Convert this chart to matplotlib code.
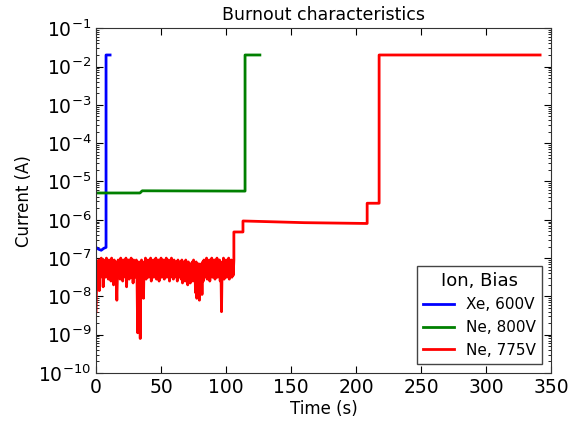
import numpy as np
import matplotlib
matplotlib.use("Agg")
import matplotlib.pyplot as plt
from matplotlib.ticker import LogLocator, NullFormatter

# Xe, 600V
blue_t = [0, 2, 4, 6, 7.7, 7.7, 10.8]
blue_i = [1.9e-7, 1.7e-7, 1.6e-7, 1.8e-7, 1.9e-7, 2e-2, 2e-2]

# Ne, 800V
green_t = [0, 33.8, 35.5, 114.6, 114.6, 126]
green_i = [5.0e-6, 5.0e-6, 5.7e-6, 5.6e-6, 2e-2, 2e-2]

# Ne, 775V: noisy part read every 0.5 s (log10 of current), then the steps
red_noise_t = [0.5 * k for k in range(213)]
red_noise_log = [
    -8.40, -7.60, -7.10, -7.45, -7.05, -7.85, -7.15, -7.50, -7.00, -7.40,
    -7.10, -7.75, -7.05, -7.45, -7.15, -7.50, -7.00, -7.35, -7.10, -7.55,
    -7.05, -7.45, -7.15, -7.60, -7.00, -7.40, -7.10, -7.70, -7.05, -7.45,
    -7.10, -7.50, -8.10, -7.40, -7.05, -7.45, -7.15, -7.55, -7.00, -7.40,
    -7.10, -7.60, -7.05, -7.45, -7.15, -7.50, -7.00, -7.75, -7.10, -7.45,
    -7.05, -7.55, -7.15, -7.40, -7.00, -7.50, -7.10, -7.65, -7.05, -7.45,
    -7.15, -7.50, -7.05, -7.45, -8.95, -7.40, -7.10, -7.50, -9.10, -7.45,
    -7.05, -7.50, -7.15, -8.05, -7.10, -7.45, -7.00, -7.55, -7.10, -7.40,
    -7.05, -7.50, -7.15, -7.45, -7.00, -7.60, -7.10, -7.45, -7.05, -7.50,
    -7.15, -7.40, -7.00, -7.55, -7.10, -7.45, -7.05, -7.60, -7.15, -7.40,
    -7.00, -7.50, -7.10, -7.45, -7.05, -7.55, -7.15, -7.40, -7.00, -7.50,
    -7.10, -7.45, -7.05, -7.60, -7.15, -7.50, -7.00, -7.45, -7.10, -7.55,
    -7.05, -7.50, -7.15, -7.45, -7.10, -7.60, -7.05, -7.50, -7.15, -7.45,
    -7.10, -7.55, -7.05, -7.65, -7.15, -7.50, -7.10, -7.60, -7.05, -7.55,
    -7.15, -7.70, -7.10, -7.55, -7.20, -7.65, -7.15, -7.50, -7.10, -7.60,
    -7.05, -7.55, -7.15, -7.90, -7.10, -8.05, -7.20, -7.95, -7.15, -8.10,
    -7.25, -7.85, -7.15, -7.95, -7.10, -7.60, -7.05, -7.50, -7.15, -7.45,
    -7.00, -7.55, -7.10, -7.45, -7.05, -7.60, -7.15, -7.40, -7.00, -7.50,
    -7.10, -7.45, -7.05, -7.55, -7.15, -7.40, -7.00, -7.50, -7.10, -7.45,
    -7.05, -7.60, -7.15, -8.40, -7.10, -7.45, -7.00, -7.55, -7.10, -7.40,
    -7.05, -7.50, -7.15, -7.45, -7.00, -7.55, -7.10, -7.40, -7.05, -7.50,
    -7.10, -7.45, -7.05,
]
red_step_t = [106, 113, 113, 160, 208.5, 208.5, 217.7, 217.7, 341.5]
red_step_i = [4.8e-7, 4.8e-7, 9.3e-7, 8.4e-7, 8.0e-7, 2.7e-6, 2.7e-6, 2e-2, 2e-2]

red_t = red_noise_t + red_step_t
red_i = [10 ** v for v in red_noise_log] + red_step_i

fig = plt.figure(figsize=(5.82, 4.21), dpi=100)
ax = fig.add_axes([0.165, 0.114, 0.782, 0.819])

ax.plot(blue_t, blue_i, color="#0000ff", lw=2.0, label="Xe, 600V")
ax.plot(green_t, green_i, color="#008000", lw=2.0, label="Ne, 800V")
ax.plot(red_t, red_i, color="#ff0000", lw=2.0, label="Ne, 775V")

ax.set_yscale("log")
ax.set_xlim(0, 350)
ax.set_ylim(1e-10, 1e-1)
ax.set_xticks(np.arange(0, 351, 50))
ax.yaxis.set_major_locator(LogLocator(base=10, numticks=20))
ax.yaxis.set_minor_locator(LogLocator(base=10, subs=np.arange(2, 10), numticks=20))
ax.yaxis.set_minor_formatter(NullFormatter())

ax.tick_params(which="both", direction="in", top=True, right=True, labelsize=13.5)
ax.tick_params(which="major", length=5)
ax.tick_params(which="minor", length=2.5)
for s in ax.spines.values():
    s.set_color("#333333")

ax.set_xlabel("Time (s)", fontsize=12, labelpad=2)
ax.set_ylabel("Current (A)", fontsize=12)
ax.set_title("Burnout characteristics", fontsize=12.5, pad=6)

leg = ax.legend(title="Ion, Bias", loc="lower right", fontsize=11,
                title_fontsize=13, fancybox=False, framealpha=1,
                edgecolor="#444444", handlelength=2.0, borderaxespad=0.6)

fig.savefig("out.png", dpi=100)
